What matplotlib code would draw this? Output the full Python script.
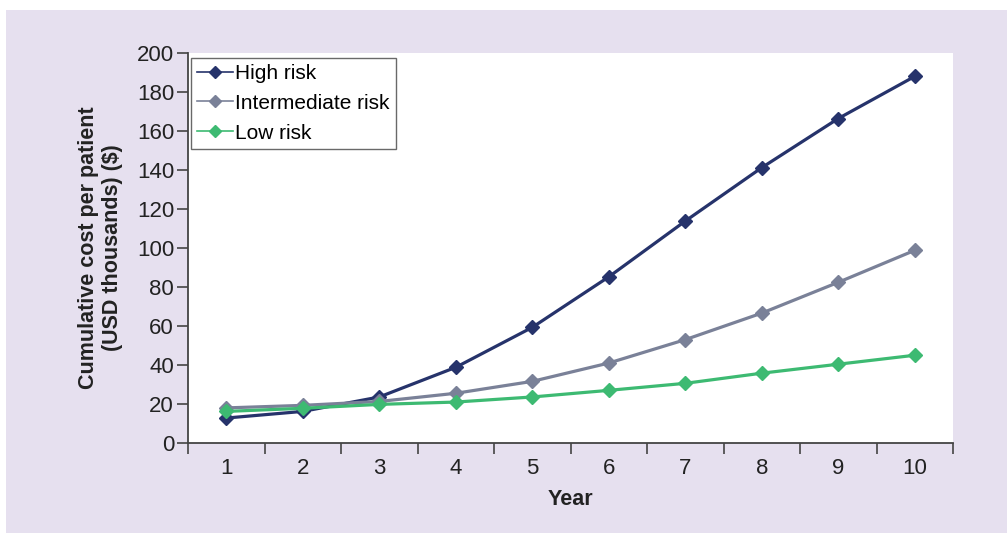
import matplotlib

matplotlib.use("Agg")
import matplotlib.pyplot as plt
from matplotlib.patches import Rectangle

plt.rcParams["font.family"] = ["Liberation Sans", "DejaVu Sans"]

years = [1, 2, 3, 4, 5, 6, 7, 8, 9, 10]
high_risk = [12.8, 16.2, 23.6, 38.8, 59.3, 85.2, 113.8, 141.2, 166.4, 188.0]
intermediate_risk = [18.0, 19.3, 21.3, 25.5, 31.6, 41.0, 53.0, 66.6, 82.4, 98.8]
low_risk = [16.2, 17.8, 19.8, 21.0, 23.6, 27.0, 30.6, 35.8, 40.4, 45.0]

series = [
    ("High risk", high_risk, "#26336b"),
    ("Intermediate risk", intermediate_risk, "#7a8198"),
    ("Low risk", low_risk, "#3dba72"),
]

fig = plt.figure(figsize=(10.07, 5.33), dpi=100)
fig.patch.set_facecolor("white")
fig.patches.append(
    Rectangle((6 / 1007, 0), 1 - 6 / 1007, 1 - 10 / 533,
              transform=fig.transFigure, facecolor="#e6e0ef",
              edgecolor="none", zorder=-5)
)

ax = fig.add_axes([188 / 1007, 1 - 443 / 533, 765 / 1007, 390 / 533])
ax.set_facecolor("white")

for label, values, color in series:
    ax.plot(years, values, color=color, linewidth=2.3, marker="D",
            markersize=7.5, markerfacecolor=color, markeredgecolor=color,
            label=label, clip_on=False)

ax.set_xlim(0.5, 10.5)
ax.set_ylim(0, 200)
ax.set_yticks(range(0, 201, 20))

# category axis: ticks between the years, labels centred
ax.set_xticks([y - 0.5 for y in years] + [10.5])
ax.set_xticklabels([])
ax.set_xticks(years, minor=True)
ax.set_xticklabels([str(y) for y in years], minor=True)
ax.tick_params(axis="x", which="major", direction="out", length=8,
               width=1.2, color="#444444")
ax.tick_params(axis="x", which="minor", length=0, pad=11,
               labelsize=16, labelcolor="#222222")
ax.tick_params(axis="y", direction="out", length=8, width=1.2,
               color="#444444", labelsize=16, labelcolor="#222222", pad=2)

for side in ("top", "right"):
    ax.spines[side].set_visible(False)
for side in ("left", "bottom"):
    ax.spines[side].set_color("#444444")
    ax.spines[side].set_linewidth(1.3)

ax.set_xlabel("Year", fontsize=15.5, fontweight="bold", color="#222222",
              labelpad=7)
ax.set_ylabel("Cumulative cost per patient\n(USD thousands) ($)",
              fontsize=15.5, fontweight="bold", color="#222222", labelpad=10,
              linespacing=1.2)

leg = ax.legend(loc="upper left", bbox_to_anchor=(0.004, 0.988),
                fontsize=15, frameon=True, fancybox=False,
                handlelength=1.7, handletextpad=0.1, labelspacing=0.52,
                borderpad=0.3, borderaxespad=0, markerscale=0.85)
leg.get_frame().set_edgecolor("#444444")
leg.get_frame().set_linewidth(1.0)
for line in leg.get_lines():
    line.set_linewidth(1.2)

fig.savefig("out.png", dpi=100)
